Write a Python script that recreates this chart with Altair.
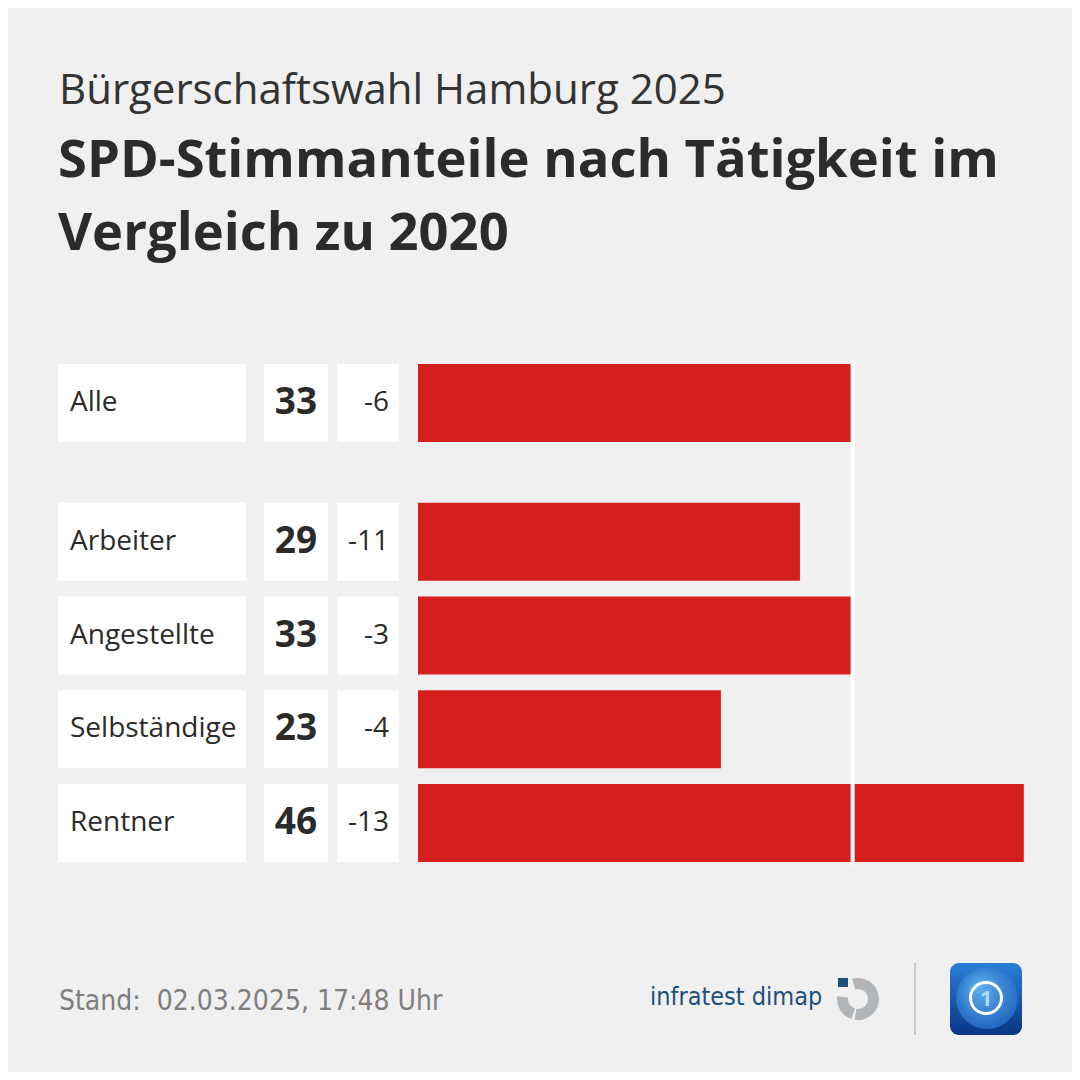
import math
import altair as alt
import pandas as pd

# ---------------- data ----------------
SUBTITLE = "Bürgerschaftswahl Hamburg 2025"
TITLE_LINES = ["SPD-Stimmanteile nach Tätigkeit im", "Vergleich zu 2020"]
categories = ["Alle", "Arbeiter", "Angestellte", "Selbständige", "Rentner"]
shares = [33, 29, 33, 23, 46]
changes = [-6, -11, -3, -4, -13]
FOOTER = "Stand:\u00a0 02.03.2025, 17:48 Uhr"
SOURCE = "infratest dimap"
LOGO_DIGIT = "1"

# ---------------- style ----------------
BG = "#f0f0f0"
RED = "#d51f1f"
TXT = "#2b2b2b"
W = H = 1064
FONT = "Open Sans"
COND = "Liberation Sans Narrow, DejaVu Sans Condensed, Roboto"

GAP = 0.48                      # extra space after the "Alle" row
PX_UNIT = 13.17                 # pixels per percentage point
BAR_X0 = 410                    # pixel where bars start
PX_SLOT = 93.75                 # pixels per row
ROW0_Y = 395                    # pixel centre of first row
HALF = 39 / PX_SLOT

slots = [0.0] + [i + GAP for i in range(1, len(categories))]
df = pd.DataFrame({
    "cat": categories,
    "share": shares,
    "change": [str(c) for c in changes],
    "slot": slots,
})
df["y0"] = df["slot"] - HALF
df["y1"] = df["slot"] + HALF
df["zero"] = 0

xdom = [-BAR_X0 / PX_UNIT, (W - BAR_X0) / PX_UNIT]
ydom = [-ROW0_Y / PX_SLOT, (H - ROW0_Y) / PX_SLOT]
X = lambda f: alt.X(f, type="quantitative", scale=alt.Scale(domain=xdom, nice=False, zero=False), axis=None)
Y = lambda f: alt.Y(f, type="quantitative", scale=alt.Scale(domain=ydom, nice=False, zero=False, reverse=True), axis=None)

base = alt.Chart(df)

def box(x0, x1):
    return base.mark_rect(color="white").encode(
        x=alt.value(x0), x2=alt.value(x1), y=Y("y0"), y2=alt.Y2("y1"))

boxes = box(50, 238) + box(256, 320) + box(329, 391)

bars = base.mark_rect(color=RED).encode(x=X("zero"), x2=alt.X2("share"), y=Y("y0"), y2=alt.Y2("y1"))

ref = alt.Chart(pd.DataFrame({"v": [shares[0]], "a": [slots[0] - HALF], "b": [slots[-1] + HALF + 0.03]})).mark_rule(
    color="white", strokeWidth=4, xOffset=0).encode(x=X("v"), y=Y("a"), y2=alt.Y2("b"))

labels = base.mark_text(align="left", baseline="middle", font=FONT, fontSize=28, color=TXT).encode(
    x=alt.value(62), y=Y("slot"), text="cat:N")
values = base.mark_text(align="center", baseline="middle", font=FONT, fontSize=37, fontWeight="bold", color=TXT).encode(
    x=alt.value(288), y=Y("slot"), text="share:N")
chg = base.mark_text(align="right", baseline="middle", font=FONT, fontSize=28, color=TXT).encode(
    x=alt.value(381), y=Y("slot"), text="change:N")

def txt(s, x, y, **kw):
    return alt.Chart(pd.DataFrame({"t": [s]})).mark_text(align="left", baseline="alphabetic", **kw).encode(
        text="t:N", x=alt.value(x), y=alt.value(y))

sub = txt(SUBTITLE, 51, 96, font=FONT, fontSize=42, fontWeight="normal", color="#333333")
t1 = txt(TITLE_LINES[0], 50, 169, font=FONT, fontSize=52.5, fontWeight="bold", color=TXT)
t2 = txt(TITLE_LINES[1], 50, 242, font=FONT, fontSize=52.5, fontWeight="bold", color=TXT)
foot = txt(FOOTER, 51, 1002, font=COND, fontSize=28, color="#7e7e7e")
src = txt(SOURCE, 642, 997, font=COND, fontSize=25, color="#1d4f7c")

one = pd.DataFrame({"k": [0]})
def rect(x0, x1, y0, y1, **kw):
    return alt.Chart(one).mark_rect(**kw).encode(x=alt.value(x0), x2=alt.value(x1), y=alt.value(y0), y2=alt.value(y1))
def arc(cx, cy, r0, r1, th0, th1, **kw):
    return alt.Chart(one).mark_arc(radius=r1, radius2=r0, theta=th0, theta2=th1, **kw).encode(
        x=alt.value(cx), y=alt.value(cy))

GREY = "#b3b6b8"
logo_id = (rect(830, 840, 970, 979, color="#1d4f7c")
           + arc(850, 991, 10, 21, 6.0, 2 * math.pi + 3.3, color=GREY)
           + arc(850, 991, 10, 21, 3.45, 4.85, color=GREY))
sep = rect(906, 908, 955, 1027, color="#c8c8c8")
grad = alt.Gradient(gradient="linear", x1=0, y1=0, x2=0, y2=1,
                    stops=[alt.GradientStop(color="#2a7fd8", offset=0), alt.GradientStop(color="#083583", offset=1)])
globe = alt.Gradient(gradient="radial", x1=0.35, y1=0.3, x2=0.5, y2=0.5, r1=0, r2=0.6,
                     stops=[alt.GradientStop(color="#6cc0f5", offset=0), alt.GradientStop(color="#1d63c4", offset=1)])
logo_ts = (rect(942, 1014, 955, 1027, color=grad, cornerRadius=9)
           + arc(979, 990, 0, 31, 0, 2 * math.pi, color=globe, opacity=0.85)
           + arc(978, 990, 14, 17, 0, 2 * math.pi, color="white")
           + alt.Chart(pd.DataFrame({"t": [LOGO_DIGIT]})).mark_text(
               font=FONT, fontWeight="bold", fontSize=22, color="#a9dcfa", align="center", baseline="middle").encode(
               text="t:N", x=alt.value(978), y=alt.value(991)))

chart = alt.layer(boxes, bars, ref, labels, values, chg, sub, t1, t2, foot, src, logo_id, sep, logo_ts).properties(
    width=W, height=H, background=BG, padding=0,
    autosize=alt.AutoSizeParams(type="none"),
).configure_view(stroke=None)

chart.save("out.html", embed_options={"renderer": "svg", "actions": False})
